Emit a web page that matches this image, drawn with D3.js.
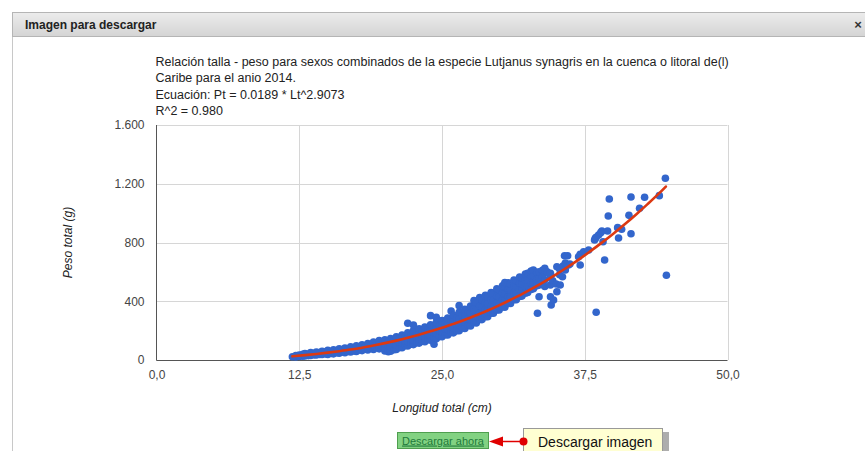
<!DOCTYPE html>
<html><head><meta charset="utf-8">
<script src="https://cdn.jsdelivr.net/npm/d3@7"></script>
<style>
html,body{margin:0;padding:0;background:#fff;overflow:hidden;}
svg{display:block;font-family:Arial,"Liberation Sans",sans-serif;}
</style></head>
<body>
<svg id="c" width="865" height="451"></svg>
<script>
// ---- data ----
const titleLines = [
  "Relación talla - peso para sexos combinados de la especie Lutjanus synagris en la cuenca o litoral de(l)",
  "Caribe para el anio 2014.",
  "Ecuación: Pt = 0.0189 * Lt^2.9073",
  "R^2 = 0.980"
];
const xTicks = [0, 12.5, 25, 37.5, 50];
const xTickLabels = ["0,0", "12,5", "25,0", "37,5", "50,0"];
const yTicks = [0, 400, 800, 1200, 1600];
const yTickLabels = ["0", "400", "800", "1.200", "1.600"];
const xTitle = "Longitud total (cm)";
const yTitle = "Peso total (g)";
// observed points [length cm, weight g]
const points = [
 [11.9,22],[12.2,20],[12.2,30],[12.5,24],[12.5,33],[12.8,26],[12.8,38],
 [13.0,28],[13.0,36],[13.0,44],[13.3,30],[13.3,40],[13.5,31],[13.5,42],[13.5,50],[13.8,35],[13.8,46],
 [14.0,34],[14.0,44],[14.0,54],[14.3,38],[14.3,50],[14.5,37],[14.5,48],[14.5,60],[14.8,42],[14.8,55],
 [15.0,38],[15.0,52],[15.0,66],[15.3,45],[15.3,58],[15.5,42],[15.5,56],[15.5,70],[15.8,50],[15.8,64],
 [16.0,46],[16.0,61],[16.0,76],[16.3,54],[16.3,68],[16.5,50],[16.5,66],[16.5,82],[16.8,58],[16.8,74],
 [17.0,55],[17.0,72],[17.0,90],[17.3,62],[17.3,80],[17.5,58],[17.5,78],[17.5,96],[17.8,68],[17.8,88],
 [18.0,64],[18.0,85],[18.0,104],[18.3,74],[18.3,95],[18.5,68],[18.5,90],[18.5,112],[18.8,80],[18.8,102],
 [19.0,72],[19.0,97],[19.0,122],[19.3,86],[19.3,110],[19.5,76],[19.5,104],[19.5,132],[19.8,90],[19.8,118],
 [20.0,62],[20.0,84],[20.0,112],[20.0,138],[20.3,56],[20.3,98],[20.3,126],[20.5,60],[20.5,92],[20.5,120],[20.5,146],
 [20.8,70],[20.8,108],[20.8,136],[21.0,72],[21.0,102],[21.0,132],[21.0,158],[21.3,85],[21.3,118],[21.3,148],
 [21.5,84],[21.5,114],[21.5,142],[21.5,170],[21.8,98],[21.8,128],[21.8,160],
 [22.0,95],[22.0,125],[22.0,155],[22.0,185],[22.0,250],[22.3,108],[22.3,140],[22.3,172],
 [22.5,105],[22.5,135],[22.5,168],[22.5,200],[22.5,238],[22.8,118],[22.8,150],[22.8,185],
 [23.0,115],[23.0,145],[23.0,178],[23.0,212],[23.3,128],[23.3,162],[23.3,196],
 [23.5,125],[23.5,158],[23.5,190],[23.5,225],[23.8,140],[23.8,175],[23.8,210],
 [24.0,135],[24.0,168],[24.0,202],[24.0,240],[24.0,302],[24.3,107],[24.3,150],[24.3,185],[24.3,222],
 [24.5,145],[24.5,180],[24.5,215],[24.5,255],[24.5,290],[24.8,160],[24.8,198],[24.8,235],
 [25.0,158],[25.0,192],[25.0,228],[25.0,268],[25.3,172],[25.3,210],[25.3,250],
 [25.5,170],[25.5,208],[25.5,245],[25.5,285],[25.8,188],[25.8,228],[25.8,270],[25.8,334],
 [26.0,185],[26.0,222],[26.0,262],[26.0,305],[26.3,200],[26.3,242],[26.3,285],
 [26.5,200],[26.5,240],[26.5,282],[26.5,325],[26.5,370],[26.8,218],[26.8,262],[26.8,305],
 [27.0,215],[27.0,258],[27.0,300],[27.0,345],[27.3,235],[27.3,280],[27.3,325],
 [27.5,232],[27.5,275],[27.5,320],[27.5,368],[27.8,255],[27.8,300],[27.8,348],[27.8,405],
 [28.0,252],[28.0,295],[28.0,340],[28.0,390],[28.3,275],[28.3,320],[28.3,368],[28.3,425],
 [28.5,275],[28.5,318],[28.5,362],[28.5,410],[28.8,295],[28.8,342],[28.8,390],[28.8,440],
 [29.0,295],[29.0,340],[29.0,385],[29.0,432],[29.3,318],[29.3,365],[29.3,412],[29.3,460],
 [29.5,318],[29.5,362],[29.5,408],[29.5,455],[29.8,340],[29.8,388],[29.8,435],[29.8,485],
 [30.0,340],[30.0,385],[30.0,430],[30.0,478],[30.3,362],[30.3,410],[30.3,458],[30.3,505],
 [30.5,360],[30.5,405],[30.5,452],[30.5,500],[30.5,527],[30.8,385],[30.8,432],[30.8,480],[30.8,525],
 [31.0,385],[31.0,430],[31.0,475],[31.0,520],[31.3,410],[31.3,455],[31.3,500],[31.3,545],
 [31.5,410],[31.5,452],[31.5,498],[31.5,540],[31.8,432],[31.8,478],[31.8,522],[31.8,565],
 [32.0,435],[32.0,478],[32.0,520],[32.0,560],[32.3,455],[32.3,500],[32.3,545],[32.3,585],
 [32.5,460],[32.5,505],[32.5,548],[32.5,590],[32.8,480],[32.8,525],[32.8,570],[32.8,605],
 [33.0,485],[33.0,530],[33.0,575],[33.0,613],[33.36,318],[33.3,505],[33.3,550],[33.3,595],
 [33.5,431],[33.5,510],[33.5,560],[33.5,600],[33.8,520],[33.8,565],[33.8,610],
 [34.0,500],[34.0,545],[34.0,590],[34.0,625],[34.2,601],
 [34.56,374],[34.5,431],[34.5,511],[34.5,560],[34.5,590],[34.77,408],[34.7,540],
 [35.06,465],[35.0,517],[35.06,635],[35.35,511],[35.3,580],[35.3,620],[35.55,567],[35.8,613],
 [35.73,710],[36.0,710],[36.07,647],[35.6,640],[35.8,660],[36.2,654],
 [37.1,647],[36.96,703],[37.1,720],[37.4,737],[37.84,749],
 [38.42,828],[38.71,851],[39.0,878],[39.5,878],[39.1,805],[38.5,835],[38.36,817],[38.9,867],
 [39.24,681],[38.5,325],[39.56,980],[39.65,1096],[40.38,901],[40.46,831],[40.73,890],
 [41.37,985],[41.55,1110],[41.55,860],[42.3,1033],[42.74,1108],[44.03,1119],[44.56,1237],[44.65,577]
];
// fitted trend line [length cm, weight g]
const trendLength = [11.9, 13, 14, 15, 16, 17, 18, 19, 20, 21, 22, 23, 24, 25, 26, 27, 28, 29, 30, 31, 32, 33, 34, 35, 36, 37, 38, 39, 40, 41, 42, 43, 44, 44.6];
const trendWeight = [25, 33, 41, 50, 60, 71, 84, 99, 115, 132, 151, 172, 195, 219, 246, 274, 305, 337, 372, 410, 449, 491, 536, 583, 633, 685, 741, 799, 860, 924, 991, 1061, 1134, 1181];

// ---- drawing ----
const svg = d3.select("#c");
const W = 865, H = 451;

// dialog frame
svg.append("rect").attr("x",0).attr("y",0).attr("width",W).attr("height",H).attr("fill","#fff");
svg.append("line").attr("x1",12.5).attr("x2",12.5).attr("y1",12).attr("y2",H).attr("stroke","#c8c8c8");
const defs = svg.append("defs");
const g1 = defs.append("linearGradient").attr("id","hdr").attr("x1",0).attr("x2",0).attr("y1",0).attr("y2",1);
g1.append("stop").attr("offset","0%").attr("stop-color","#ececec");
g1.append("stop").attr("offset","100%").attr("stop-color","#d4d4d4");
svg.append("rect").attr("x",12.5).attr("y",12.5).attr("width",W).attr("height",24)
  .attr("fill","url(#hdr)").attr("stroke","#b5b5b5");
svg.append("text").attr("x",25).attr("y",28.5).attr("font-size",12).attr("font-weight","bold")
  .attr("fill","#222").text("Imagen para descargar");
svg.append("text").attr("x",858).attr("y",29).attr("font-size",13).attr("font-weight","bold")
  .attr("text-anchor","middle").attr("fill","#333").text("×");

// chart area
const m = {left:156.5, right:727.5, top:125, bottom:360};
const x = d3.scaleLinear().domain([0,50]).range([m.left, m.right]);
const y = d3.scaleLinear().domain([0,1600]).range([m.bottom, m.top]);

// title
svg.append("g").selectAll("text").data(titleLines).join("text")
  .attr("x", m.left - 1).attr("y", (d,i) => 66 + i*16.3)
  .attr("font-size", 12.5).attr("fill", "#222").text(d => d);

// gridlines
svg.append("g").selectAll("line").data(yTicks.slice(1)).join("line")
  .attr("x1", m.left).attr("x2", m.right).attr("y1", d => Math.round(y(d))+0.5).attr("y2", d => Math.round(y(d))+0.5)
  .attr("stroke", "#d6d6d6");
svg.append("g").selectAll("line").data(xTicks.slice(1)).join("line")
  .attr("y1", m.top).attr("y2", m.bottom).attr("x1", d => Math.round(x(d))+0.5).attr("x2", d => Math.round(x(d))+0.5)
  .attr("stroke", "#d6d6d6");

// axes (labels from arrays)
const yAxis = d3.axisLeft(y).tickValues(yTicks).tickSize(0).tickPadding(12)
  .tickFormat((d,i) => yTickLabels[i]);
const ya = svg.append("g").attr("transform", `translate(${m.left},0)`).call(yAxis);
ya.select(".domain").remove();
ya.selectAll("text").attr("font-size", 12).attr("fill", "#444").attr("font-family","Arial,'Liberation Sans',sans-serif");

const xAxis = d3.axisBottom(x).tickValues(xTicks).tickSize(0).tickPadding(10)
  .tickFormat((d,i) => xTickLabels[i]);
const xa = svg.append("g").attr("transform", `translate(0,${m.bottom})`).call(xAxis);
xa.select(".domain").remove();
xa.selectAll("text").attr("font-size", 12).attr("fill", "#444").attr("font-family","Arial,'Liberation Sans',sans-serif");

// axis lines
svg.append("line").attr("x1", m.left).attr("x2", m.left).attr("y1", m.top).attr("y2", m.bottom+0.5).attr("stroke","#555");
svg.append("line").attr("x1", m.left).attr("x2", m.right).attr("y1", m.bottom+0.5).attr("y2", m.bottom+0.5).attr("stroke","#555");

// axis titles
svg.append("text").attr("x", (m.left+m.right)/2).attr("y", 412).attr("text-anchor","middle")
  .attr("font-size", 12).attr("font-style","italic").attr("fill","#222").text(xTitle);
svg.append("text").attr("transform", `translate(72,${(m.top+m.bottom)/2}) rotate(-90)`).attr("text-anchor","middle")
  .attr("font-size", 12).attr("font-style","italic").attr("fill","#222").text(yTitle);

// points
svg.append("g").selectAll("circle").data(points).join("circle")
  .attr("cx", d => x(d[0])).attr("cy", d => y(d[1])).attr("r", 3.8).attr("fill", "#3366cc");

// trend line
const trend = trendLength.map((l,i) => [l, trendWeight[i]]);
svg.append("path").datum(trend)
  .attr("d", d3.line().x(d => x(d[0])).y(d => y(d[1])).curve(d3.curveMonotoneX))
  .attr("fill","none").attr("stroke","#dc3912").attr("stroke-width",2.6).attr("stroke-linecap","round");

// download controls
svg.append("rect").attr("x",397.5).attr("y",432.5).attr("width",91).attr("height",16)
  .attr("fill","#82d282").attr("stroke","#4f9f4f");
svg.append("text").attr("x",443).attr("y",444.5).attr("text-anchor","middle").attr("font-size",11)
  .attr("fill","#1f7a3a").attr("text-decoration","underline").text("Descargar ahora");
svg.append("line").attr("x1",500).attr("x2",523).attr("y1",441.5).attr("y2",441.5).attr("stroke","#e00000").attr("stroke-width",1.5);
svg.append("path").attr("d","M489,441.5 L503,436.5 L503,446.5 Z").attr("fill","#e00000");
// tooltip box with shadow
svg.append("rect").attr("x",527).attr("y",432).attr("width",142).attr("height",30).attr("fill","#777").attr("opacity",0.6);
svg.append("rect").attr("x",523.5).attr("y",428.5).attr("width",139).attr("height",30)
  .attr("fill","#ffffd2").attr("stroke","#999");
svg.append("circle").attr("cx",523.5).attr("cy",441.5).attr("r",4).attr("fill","#e00000");
svg.append("text").attr("x",538).attr("y",447).attr("font-size",14).attr("fill","#111").text("Descargar imagen");
</script>
</body></html>
